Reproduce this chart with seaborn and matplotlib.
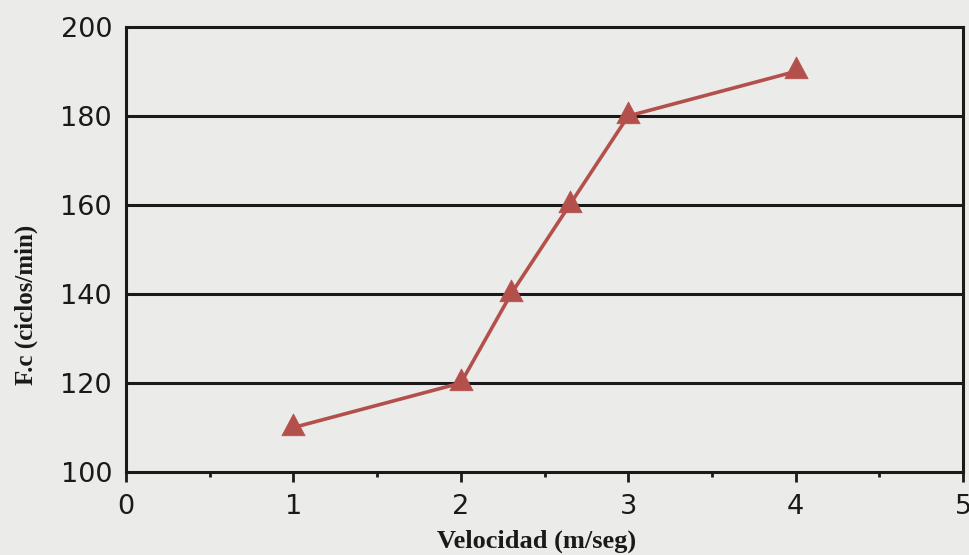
import matplotlib
matplotlib.use("Agg")
import matplotlib.pyplot as plt
import seaborn as sns
import pandas as pd
from matplotlib.path import Path

# Heart rate (cycles/min) measured at each speed (m/s)
velocidad = [1, 2, 2.3, 2.65, 3, 4]
frecuencia = [110, 120, 140, 160, 180, 190]

x_ticks = [0, 1, 2, 3, 4, 5]
y_ticks = [100, 120, 140, 160, 180, 200]

bg = "#ebebea"
ink = "#1a1a1a"
line_color = "#b4504c"

# upward triangle whose centroid sits on the data point
tri = Path([(0, 2), (-1.6, -1), (1.6, -1), (0, 2)],
           [Path.MOVETO, Path.LINETO, Path.LINETO, Path.CLOSEPOLY])

sns.set_theme(style="white")
plt.rcParams["font.family"] = ["DejaVu Sans"]

df = pd.DataFrame({"Velocidad": velocidad, "Fc": frecuencia})

fig = plt.figure(figsize=(9.7, 5.55), dpi=100, facecolor=bg)
ax = fig.add_axes([0.1299, 0.1495, 0.8629, 0.8019])
ax.set_facecolor(bg)

sns.lineplot(data=df, x="Velocidad", y="Fc", ax=ax, color=line_color,
             linewidth=2.6, marker=tri, markersize=21,
             markeredgecolor=line_color, markerfacecolor=line_color,
             markeredgewidth=0.5, zorder=3)

ax.set_xlim(0, 5)
ax.set_ylim(100, 200)
ax.set_xticks(x_ticks)
ax.set_xticks([0.5, 1.5, 2.5, 3.5, 4.5], minor=True)
ax.set_yticks(y_ticks)
ax.set_xticklabels([str(v) for v in x_ticks])
ax.set_yticklabels([str(v) for v in y_ticks])

# horizontal guide lines
for yv in y_ticks[1:-1]:
    ax.axhline(yv, color=ink, linewidth=2.2, zorder=1)

for side in ["left", "right", "top", "bottom"]:
    ax.spines[side].set_visible(True)
    ax.spines[side].set_color(ink)
    ax.spines[side].set_linewidth(2.2)

ax.tick_params(axis="x", which="major", direction="out", length=7, width=2,
               color=ink, pad=9, labelsize=19.5, labelcolor=ink,
               bottom=True)
ax.tick_params(axis="x", which="minor", direction="out", length=3.5, width=2,
               color=ink, bottom=True)
ax.tick_params(axis="y", which="major", length=0, pad=10, labelsize=19.5,
               labelcolor=ink)

label_font = dict(family=["Liberation Serif", "DejaVu Serif"],
                  fontweight="bold", color=ink)
ax.set_xlabel("Velocidad (m/seg)", fontsize=19, **label_font)
ax.set_ylabel("F.c (ciclos/min)", fontsize=18, **label_font)
ax.xaxis.label.set_va("center")
ax.yaxis.label.set_va("center")
ax.xaxis.set_label_coords(0.491, -0.155)
ax.yaxis.set_label_coords(-0.119, 0.375)

fig.savefig("out.png", dpi=100, facecolor=bg)
